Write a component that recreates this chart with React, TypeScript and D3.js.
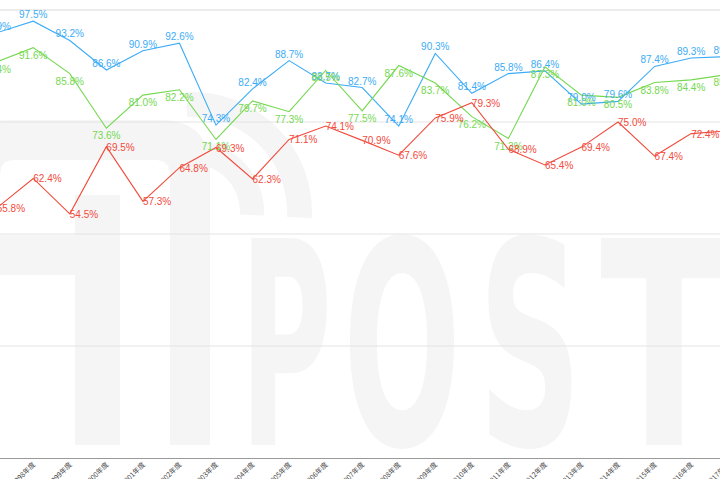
import { select, scalePoint, scaleLinear, line, axisBottom, arc } from 'd3';
import { useRef, useEffect } from 'react';

const years = [
  '1997年度', '1998年度', '1999年度', '2000年度', '2001年度', '2002年度', '2003年度',
  '2004年度', '2005年度', '2006年度', '2007年度', '2008年度', '2009年度', '2010年度',
  '2011年度', '2012年度', '2013年度', '2014年度', '2015年度', '2016年度', '2017年度',
];
const blueValues = [94.9, 97.5, 93.2, 86.6, 90.9, 92.6, 74.3, 82.4, 88.7, 83.7, 82.7, 74.1, 90.3, 81.4, 85.8, 86.4, 79.0, 79.6, 87.4, 89.3, 89.6];
const greenValues = [88.4, 91.6, 85.8, 73.6, 81.0, 82.2, 71.1, 79.7, 77.3, 86.5, 77.5, 87.6, 83.7, 76.2, 71.3, 87.3, 81.0, 80.5, 83.8, 84.4, 85.6];
const redValues = [55.8, 62.4, 54.5, 69.5, 57.3, 64.8, 69.3, 62.3, 71.1, 74.1, 70.9, 67.6, 75.9, 79.3, 68.9, 65.4, 69.4, 75.0, 67.4, 72.4, 73.0];
const gridTicks = [0, 25, 50, 75, 100];

const series = [
  { name: 'blue', color: '#3cacf6', values: blueValues, pos: 'top' },
  { name: 'green', color: '#74d850', values: greenValues, pos: 'bottom' },
  { name: 'red', color: '#f24a3c', values: redValues, pos: 'right' },
];

// watermark letters: [char, left, width]
const watermark = [['P', 240, 92], ['O', 343, 118], ['S', 478, 104], ['T', 600, 128]];

const W = 720;
const H = 479;

const Chart = () => {
  const svgRef = useRef(null);

  useEffect(() => {
    const svg = select(svgRef.current);
    svg.selectAll('*').remove();

    const x = scalePoint().domain(years).range([-3.3, 727.7]).padding(0);
    const y = scaleLinear().domain([0, 100]).range([458, 10]);

    // watermark logo
    const wm = svg.append('g').attr('fill', '#f5f5f5').attr('stroke', 'none');
    watermark.forEach(([ch, left, w]) => {
      wm.append('text')
        .attr('x', left)
        .attr('y', 445)
        .attr('font-family', 'DejaVu Sans')
        .attr('font-weight', 'bold')
        .attr('font-size', 284)
        .attr('textLength', w)
        .attr('lengthAdjust', 'spacingAndGlyphs')
        .text(ch);
    });
    wm.append('path')
      .attr('d', 'M-40,445 V170 Q-40,120 10,120 H160 Q210,120 210,170 V445 H170 V175 Q170,160 155,160 H15 Q0,160 0,175 V445 Z');
    wm.append('rect').attr('x', 75).attr('y', 195).attr('width', 45).attr('height', 250);
    wm.append('rect').attr('x', 0).attr('y', 235).attr('width', 75).attr('height', 40);
    const wifi = arc().startAngle(-0.05).endAngle(Math.PI / 2 + 0.05);
    [[48, 72], [95, 120]].forEach(([r0, r1]) => {
      wm.append('path')
        .attr('transform', 'translate(192,212)')
        .attr('d', wifi({ innerRadius: r0, outerRadius: r1 }));
    });

    // gridlines
    svg.append('g')
      .selectAll('line')
      .data(gridTicks.filter((t) => t > 0))
      .enter()
      .append('line')
      .attr('x1', 0)
      .attr('x2', W)
      .attr('y1', (d) => y(d))
      .attr('y2', (d) => y(d))
      .attr('stroke', (d) => (d === 100 ? '#e6e6e6' : '#e3e3e3'))
      .attr('stroke-width', (d) => (d === 100 ? 1.5 : 1));

    // x axis
    const xAxisGroup = svg.append('g')
      .attr('transform', `translate(0,${y(0)})`)
      .call(axisBottom(x).tickSize(0).tickPadding(0));
    xAxisGroup.select('.domain').attr('stroke', '#999').attr('stroke-width', 1.2);
    xAxisGroup.selectAll('text')
      .attr('font-family', 'Noto Sans CJK JP')
      .attr('font-size', 7)
      .attr('fill', '#444')
      .attr('text-anchor', 'end')
      .attr('dy', 0)
      .attr('transform', 'translate(2,7) rotate(-45)');

    const gLine = line()
      .x((d, i) => x(years[i]))
      .y((d) => y(d));

    series.forEach((s) => {
      svg.append('path')
        .attr('fill', 'none')
        .attr('stroke', s.color)
        .attr('stroke-width', 1.1)
        .attr('d', gLine(s.values));
    });

    series.forEach((s) => {
      svg.append('g')
        .selectAll('text')
        .data(s.values)
        .enter()
        .append('text')
        .attr('font-family', 'Liberation Sans, Arial, sans-serif')
        .attr('font-size', 10)
        .attr('fill', s.color)
        .attr('text-anchor', s.pos === 'right' ? 'start' : 'middle')
        .attr('x', (d, i) => x(years[i]))
        .attr('y', (d) => y(d) + (s.pos === 'top' ? -3 : s.pos === 'bottom' ? 11 : 4))
        .text((d) => `${d.toFixed(1)}%`);
    });
  }, []);

  return <svg ref={svgRef} width={W} height={H} style={{ display: 'block', overflow: 'hidden', background: '#fff' }} />;
};

export default function App() {
  return (
    <div style={{ position: 'absolute', left: 0, top: 0 }}>
      <Chart />
    </div>
  );
}
